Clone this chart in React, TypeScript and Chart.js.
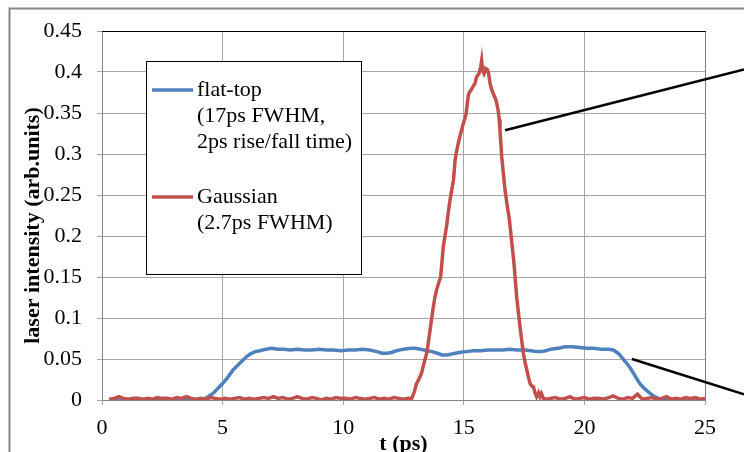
import React, { useEffect, useRef } from 'react';
import { Chart, registerables } from 'chart.js';

Chart.register(...registerables);

const xTickLabels = ['0', '5', '10', '15', '20', '25'];
const yTickLabels = ['0', '0.05', '0.1', '0.15', '0.2', '0.25', '0.3', '0.35', '0.4', '0.45'];
const xAxisTitle = 't (ps)';
const yAxisTitle = 'laser intensity (arb.units)';

const seriesNames = ['flat-top', 'Gaussian'];
const legendText = [
  ['flat-top', '(17ps FWHM,', '2ps rise/fall time)'],
  ['Gaussian', '(2.7ps FWHM)'],
];
const seriesColors = ['#4F81BD', '#C0504D'];

// flat-top pulse (time in ps, intensity)
const flatTopT = [
  0.3, 4.15, 4.4, 4.6, 4.8, 5.0, 5.2, 5.44, 5.65, 5.86, 6.0, 6.14, 6.35, 6.55, 6.8, 7.03, 7.3, 7.55, 7.8, 8.1,
  8.4, 8.7, 9.0, 9.3, 9.6, 9.9, 10.2, 10.5, 10.8, 11.1, 11.4, 11.6, 11.8, 12.0, 12.2, 12.5, 12.8, 13.0, 13.2, 13.46,
  13.7, 13.9, 14.1, 14.3, 14.5, 14.8, 15.1, 15.4, 15.7, 16.0, 16.3, 16.6, 16.9, 17.2, 17.5, 17.8, 18.0, 18.2, 18.4, 18.6,
  18.9, 19.2, 19.5, 19.8, 20.1, 20.4, 20.7, 21.0, 21.2, 21.35, 21.47, 21.6, 21.75, 21.9, 22.03, 22.15, 22.3, 22.45, 22.65, 22.85,
  23.0, 23.2, 25.0,
];
const flatTopY = [
  0, 0, 0.004, 0.008, 0.014, 0.02, 0.027, 0.037, 0.043, 0.049, 0.053, 0.056, 0.059, 0.06, 0.062, 0.063, 0.062, 0.062, 0.061, 0.062,
  0.061, 0.061, 0.062, 0.061, 0.061, 0.06, 0.061, 0.061, 0.062, 0.061, 0.059, 0.057, 0.057, 0.058, 0.06, 0.062, 0.063, 0.063, 0.062, 0.06,
  0.059, 0.057, 0.055, 0.055, 0.056, 0.058, 0.059, 0.06, 0.06, 0.061, 0.061, 0.061, 0.062, 0.061, 0.061, 0.06, 0.059, 0.059, 0.06, 0.062,
  0.063, 0.065, 0.065, 0.064, 0.063, 0.063, 0.062, 0.062, 0.061, 0.058, 0.055, 0.05, 0.045, 0.039, 0.033, 0.027, 0.02, 0.015, 0.01, 0.005,
  0.003, 0, 0,
];

// Gaussian pulse (time in ps, intensity)
const gaussT = [
  0.3, 0.5, 0.7, 0.9, 1.1, 1.3, 1.5, 1.7, 1.9, 2.1, 2.3, 2.5, 2.7, 2.9, 3.1, 3.3, 3.5, 3.7, 3.9, 4.1,
  4.3, 4.5, 4.7, 4.9, 5.1, 5.3, 5.5, 5.7, 5.9, 6.1, 6.3, 6.5, 6.7, 6.9, 7.1, 7.3, 7.5, 7.7, 7.9, 8.1,
  8.3, 8.5, 8.7, 8.9, 9.1, 9.3, 9.5, 9.7, 9.9, 10.1, 10.3, 10.5, 10.7, 10.9, 11.1, 11.3, 11.5, 11.7, 11.9, 12.1,
  12.3, 12.5, 12.7, 12.84, 12.95, 13.04, 13.15, 13.25, 13.35, 13.46, 13.53, 13.6, 13.67, 13.74, 13.8, 13.87, 13.95, 14.04, 14.1, 14.15,
  14.22, 14.3, 14.36, 14.43, 14.5, 14.57, 14.61, 14.64, 14.7, 14.77, 14.87, 14.98, 15.09, 15.14, 15.19, 15.25, 15.32, 15.4, 15.46, 15.53,
  15.58, 15.63, 15.67, 15.7, 15.74, 15.78, 15.84, 15.88, 15.92, 15.97, 16.02, 16.06, 16.09, 16.14, 16.19, 16.26, 16.33, 16.38, 16.43, 16.47,
  16.5, 16.54, 16.57, 16.64, 16.71, 16.8, 16.89, 16.98, 17.08, 17.14, 17.19, 17.26, 17.33, 17.4, 17.47, 17.54, 17.61, 17.68, 17.75, 17.82,
  17.89, 17.95, 18.02, 18.1, 18.16, 18.22, 18.3, 18.4, 18.6, 18.8, 19.0, 19.2, 19.4, 19.6, 19.8, 20.0, 20.2, 20.4, 20.6, 20.8,
  21.0, 21.2, 21.4, 21.6, 21.8, 22.0, 22.2, 22.4, 22.6, 22.8, 23.0, 23.2, 23.4, 23.6, 23.8, 24.0, 24.2, 24.4, 24.6, 24.8,
  25.0,
];
const gaussY = [
  0.001, 0.002, 0.004, 0.002, 0.001, 0.002, 0.002, 0.001, 0.002, 0.001, 0.003, 0.002, 0.002, 0.001, 0.003, 0.002, 0.004, 0.002, 0.001, 0.002,
  0.001, 0.003, 0.002, 0.001, 0.002, 0.001, 0.002, 0.003, 0.001, 0.002, 0.001, 0.002, 0.003, 0.002, 0.004, 0.002, 0.003, 0.001, 0.002, 0.004,
  0.002, 0.001, 0.003, 0.002, 0.0, 0.002, 0.001, 0.003, 0.002, 0.002, 0.001, 0.003, 0.002, 0.001, 0.002, 0.003, 0.001, 0.002, 0.001, 0.003,
  0.002, 0.001, 0.002, 0.002, 0.01, 0.02, 0.026, 0.033, 0.045, 0.057, 0.07, 0.085, 0.1, 0.114, 0.125, 0.134, 0.142, 0.15, 0.17, 0.187,
  0.2, 0.215, 0.23, 0.244, 0.256, 0.268, 0.282, 0.293, 0.303, 0.313, 0.325, 0.337, 0.348, 0.36, 0.372, 0.376, 0.379, 0.383, 0.386, 0.394,
  0.396, 0.398, 0.402, 0.406, 0.414, 0.402, 0.398, 0.401, 0.404, 0.403, 0.4, 0.392, 0.386, 0.38, 0.376, 0.371, 0.366, 0.36, 0.352, 0.342,
  0.329, 0.312, 0.297, 0.276, 0.256, 0.237, 0.22, 0.195, 0.167, 0.145, 0.126, 0.108, 0.089, 0.073, 0.057, 0.046, 0.037, 0.028, 0.02, 0.017,
  0.016, 0.009, 0.004, 0.009, 0.004, 0.008, 0.002, 0.001, 0.002, 0.003, 0.001, 0.002, 0.004, 0.001, 0.002, 0.003, 0.001, 0.002, 0.002, 0.001,
  0.003, 0.005, 0.002, 0.001, 0.003, 0.002, 0.007, 0.001, 0.002, 0.003, 0.001, 0.002, 0.004, 0.001, 0.002, 0.001, 0.003, 0.002, 0.003, 0.001,
  0.002,
];

// callout lines, in data units (t, intensity)
const calloutStart = [[16.71, 0.329], [21.97, 0.05]];
const calloutEnd = [[26.62, 0.403], [26.62, 0.007]];

const FONT = '"Liberation Serif", "Times New Roman", serif';

const decorPlugin = {
  id: 'decor',
  beforeDraw(chart: any) {
    const { ctx, width, height } = chart;
    ctx.save();
    ctx.fillStyle = '#ffffff';
    ctx.fillRect(0, 0, width, height);
    ctx.restore();
  },
  afterDatasetsDraw(chart: any) {
    const { ctx, chartArea: a, scales } = chart;
    const xs = scales.x;
    const ys = scales.y;
    ctx.save();

    // plot area border (top dark, right gray)
    ctx.lineWidth = 1;
    ctx.strokeStyle = '#808080';
    ctx.beginPath();
    ctx.moveTo(Math.round(a.right) + 0.5, a.top);
    ctx.lineTo(Math.round(a.right) + 0.5, a.bottom);
    ctx.stroke();
    ctx.strokeStyle = '#000000';
    ctx.beginPath();
    ctx.moveTo(a.left, Math.round(a.top) + 0.5);
    ctx.lineTo(a.right + 1, Math.round(a.top) + 0.5);
    ctx.stroke();

    // callout lines
    ctx.strokeStyle = '#000000';
    ctx.lineWidth = 2.5;
    for (let i = 0; i < calloutStart.length; i++) {
      ctx.beginPath();
      ctx.moveTo(xs.getPixelForValue(calloutStart[i][0]), ys.getPixelForValue(calloutStart[i][1]));
      ctx.lineTo(xs.getPixelForValue(calloutEnd[i][0]), ys.getPixelForValue(calloutEnd[i][1]));
      ctx.stroke();
    }

    // legend box
    const bx = 146, by = 61, bw = 215, bh = 213;
    ctx.fillStyle = '#ffffff';
    ctx.fillRect(bx, by, bw, bh);
    ctx.strokeStyle = '#000000';
    ctx.lineWidth = 1;
    ctx.strokeRect(bx + 0.5, by + 0.5, bw, bh);
    ctx.font = `22px ${FONT}`;
    ctx.textAlign = 'left';
    ctx.textBaseline = 'middle';
    const groupTop = [90, 197];
    const lineGap = 26;
    legendText.forEach((lines, i) => {
      const y0 = groupTop[i];
      ctx.strokeStyle = seriesColors[i];
      ctx.lineWidth = 3.5;
      ctx.beginPath();
      ctx.moveTo(bx + 6, y0);
      ctx.lineTo(bx + 47, y0);
      ctx.stroke();
      ctx.fillStyle = '#000000';
      lines.forEach((t, j) => ctx.fillText(t, bx + 51, y0 + j * lineGap));
    });

    // y axis title
    ctx.save();
    ctx.font = `bold 22px ${FONT}`;
    ctx.fillStyle = '#000000';
    ctx.textAlign = 'center';
    ctx.textBaseline = 'middle';
    ctx.translate(33, (a.top + a.bottom) / 2 + 10);
    ctx.rotate(-Math.PI / 2);
    ctx.fillText(yAxisTitle, 0, 0);
    ctx.restore();

    // outer chart frame
    ctx.strokeStyle = '#888888';
    ctx.lineWidth = 2;
    ctx.strokeRect(9.5, 8.5, 800, 800);

    ctx.restore();
  },
};

export default function App() {
  const canvasRef = useRef<HTMLCanvasElement | null>(null);

  useEffect(() => {
    const canvas = canvasRef.current;
    if (!canvas) return;
    const chart = new Chart(canvas, {
      type: 'line',
      data: {
        datasets: [
          {
            label: seriesNames[0],
            data: flatTopT.map((t, i) => ({ x: t, y: flatTopY[i] })),
            borderColor: seriesColors[0],
            backgroundColor: seriesColors[0],
            borderWidth: 3.5,
            pointRadius: 0,
            tension: 0,
            order: 1,
          },
          {
            label: seriesNames[1],
            data: gaussT.map((t, i) => ({ x: t, y: gaussY[i] })),
            borderColor: seriesColors[1],
            backgroundColor: seriesColors[1],
            borderWidth: 3.5,
            pointRadius: 0,
            tension: 0,
            order: 0,
          },
        ],
      },
      options: {
        responsive: false,
        devicePixelRatio: 1,
        animation: false,
        layout: { padding: { left: 0, top: 31, right: 39, bottom: 0 } },
        plugins: {
          legend: { display: false },
          tooltip: { enabled: false },
        },
        scales: {
          x: {
            type: 'linear',
            min: 0,
            max: 25,
            afterFit: (s: any) => { s.height = 52; },
            grid: { color: '#a6a6a6', lineWidth: 1, tickLength: 5, drawTicks: true },
            border: { color: '#868686', width: 1 },
            ticks: {
              stepSize: 5,
              maxRotation: 0,
              autoSkip: false,
              padding: 10,
              color: '#000000',
              font: { family: FONT, size: 22 },
              callback: (_v: any, i: number) => xTickLabels[i],
            },
            title: {
              display: true,
              text: xAxisTitle,
              color: '#000000',
              font: { family: FONT, size: 22, weight: 'bold', lineHeight: 1 },
              padding: { top: 0, bottom: -3 },
            },
          },
          y: {
            type: 'linear',
            min: 0,
            max: 0.45,
            afterFit: (s: any) => { s.width = 102; },
            grid: { color: '#a6a6a6', lineWidth: 1, tickLength: 5, drawTicks: true },
            border: { color: '#868686', width: 1 },
            ticks: {
              stepSize: 0.05,
              autoSkip: false,
              padding: 15,
              color: '#000000',
              font: { family: FONT, size: 22 },
              callback: (_v: any, i: number) => yTickLabels[i],
            },
          },
        },
      },
      plugins: [decorPlugin],
    } as any);
    return () => chart.destroy();
  }, []);

  return (
    <div style={{ position: 'fixed', left: 0, top: 0, width: 744, height: 452, overflow: 'hidden', background: '#fff' }}>
      <canvas ref={canvasRef} width={744} height={452} style={{ display: 'block', width: 744, height: 452 }} />
    </div>
  );
}
